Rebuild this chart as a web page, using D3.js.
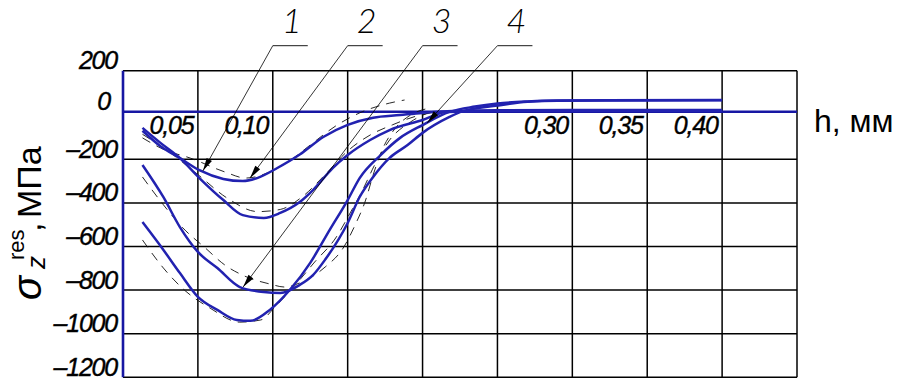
<!DOCTYPE html>
<html>
<head>
<meta charset="utf-8">
<script src="https://cdn.jsdelivr.net/npm/d3@7"></script>
<style>
  body { margin: 0; background: #fff; }
  svg { display: block; }
</style>
</head>
<body>
<svg id="chart" width="902" height="388"></svg>
<script>
// curve 1 .. 4 (solid, computed) - h in mm, sigma in MPa
const hA = [0.013, 0.025, 0.038, 0.051, 0.067, 0.080, 0.090, 0.103, 0.118, 0.134, 0.150, 0.167, 0.185, 0.200, 0.220, 0.250, 0.300, 0.350, 0.400];
const sA = [-80, -145, -195, -250, -290, -300, -285, -240, -180, -105, -55, -25, -14, -5, 4, 7, 8, 8, 8];

const hB = [0.013, 0.025, 0.038, 0.051, 0.067, 0.080, 0.094, 0.105, 0.118, 0.127, 0.140, 0.150, 0.165, 0.178, 0.200, 0.216, 0.250, 0.300, 0.400];
const sB = [-68, -131, -195, -286, -387, -456, -469, -446, -396, -340, -240, -182, -119, -77, -35, -1, 4, 5, 5];

const hC = [0.013, 0.027, 0.038, 0.050, 0.063, 0.078, 0.094, 0.105, 0.118, 0.127, 0.135, 0.150, 0.158, 0.167, 0.178, 0.190, 0.200, 0.218, 0.227, 0.250, 0.270, 0.290, 0.400];
const sC = [-226, -374, -511, -625, -699, -786, -809, -813, -776, -730, -660, -492, -373, -281, -194, -140, -89, -22, 3, 30, 48, 54, 56];

const hD = [0.013, 0.027, 0.038, 0.050, 0.063, 0.076, 0.085, 0.098, 0.112, 0.125, 0.138, 0.150, 0.158, 0.172, 0.185, 0.200, 0.218, 0.235, 0.250, 0.270, 0.290, 0.400];
const sD = [-488, -616, -722, -831, -891, -937, -941, -891, -794, -675, -524, -387, -286, -182, -110, -56, -1, 25, 40, 50, 55, 57];

// dashed companions (experiment)
const hA2 = [0.013, 0.028, 0.045, 0.068, 0.082, 0.098, 0.112, 0.125, 0.142, 0.158, 0.178, 0.188];
const sA2 = [-110, -161, -195, -258, -286, -258, -203, -140, -60, -5, 42, 57];

const hB2 = [0.013, 0.030, 0.050, 0.070, 0.090, 0.105, 0.120, 0.135, 0.150, 0.165, 0.180, 0.195, 0.210];
const sB2 = [-95, -165, -270, -380, -440, -430, -370, -270, -165, -98, -55, -20, 0];

const hC2 = [0.013, 0.027, 0.040, 0.055, 0.068, 0.081, 0.098, 0.108, 0.118, 0.135, 0.147, 0.155, 0.162, 0.167, 0.173, 0.182, 0.192, 0.205];
const sC2 = [-281, -409, -515, -607, -685, -735, -772, -786, -767, -694, -607, -501, -387, -272, -161, -68, -14, 18];

const hD2 = [0.013, 0.027, 0.041, 0.058, 0.078, 0.092, 0.102, 0.115, 0.128, 0.142, 0.152, 0.160, 0.168, 0.178, 0.192, 0.205];
const sD2 = [-570, -699, -800, -882, -947, -937, -873, -777, -671, -561, -442, -341, -226, -119, -43, -1];

// axes
const xGrid = [0.05, 0.10, 0.15, 0.20, 0.25, 0.30, 0.35, 0.40, 0.45];
const xLabels = [0.05, 0.10, 0.30, 0.35, 0.40];
const yGrid = [200, -200, -400, -600, -800, -1000, -1200];
const yLabels = [200, 0, -200, -400, -600, -800, -1000, -1200];

// callouts
const calloutText = ["1", "2", "3", "4"];
const calloutH = [0.10, 0.15, 0.20, 0.25];
const tipH = [0.0534, 0.0848, 0.0802, 0.2031];
const tipS = [-253, -286, -786, -47];

const BLUE = "#2222b0";
const AXISBLUE = "#1717a3";
const TICKFONT = "'Liberation Sans', Arial, sans-serif";

const svg = d3.select("#chart");

const x = d3.scaleLinear().domain([0, 0.45]).range([123, 797]);
const y = d3.scaleLinear().domain([-1200, -200, 0, 200]).range([377.3, 159.3, 111.7, 70.7]);

// grid
svg.append("g").selectAll("line").data(xGrid).enter().append("line")
  .attr("x1", d => x(d)).attr("x2", d => x(d))
  .attr("y1", y(200)).attr("y2", y(-1200))
  .attr("stroke", "#000").attr("stroke-width", 1.5);

svg.append("g").selectAll("line").data(yGrid).enter().append("line")
  .attr("x1", x(0)).attr("x2", x(0.45))
  .attr("y1", d => y(d)).attr("y2", d => y(d))
  .attr("stroke", "#000").attr("stroke-width", 1.5);

// blue zero line + left axis
svg.append("line")
  .attr("x1", x(0)).attr("x2", x(0.45)).attr("y1", y(0)).attr("y2", y(0))
  .attr("stroke", AXISBLUE).attr("stroke-width", 2.6);
svg.append("line")
  .attr("x1", x(0)).attr("x2", x(0)).attr("y1", y(200)).attr("y2", y(-1200))
  .attr("stroke", AXISBLUE).attr("stroke-width", 2.6);

// y tick labels
const yAxis = d3.axisLeft(y).tickValues(yLabels).tickSize(0).tickPadding(6)
  .tickFormat(d => d < 0 ? "\u2013" + Math.abs(d) : String(d));
const gy = svg.append("g").attr("transform", "translate(" + x(0) + ",0)").call(yAxis);
gy.select(".domain").remove();
gy.selectAll("text")
  .attr("dy", "-0.08em")
  .attr("x", d => d === 0 ? -13 : -6)
  .style("font-family", TICKFONT).style("font-style", "italic")
  .style("font-size", "25px").style("letter-spacing", "-1.2px")
  .attr("stroke", "#000").attr("stroke-width", 0.4)
  .attr("fill", "#000");

// x tick labels
const fmt = d3.format(".2f");
const xAxis = d3.axisBottom(x).tickValues(xLabels).tickSize(0).tickPadding(0)
  .tickFormat(d => fmt(d).replace(".", ","));
const gx = svg.append("g").attr("transform", "translate(0," + y(0) + ")").call(xAxis);
gx.select(".domain").remove();
gx.selectAll("text")
  .attr("text-anchor", "end").attr("x", -5).attr("y", 22).attr("dy", 0)
  .style("font-family", TICKFONT).style("font-style", "italic")
  .style("font-size", "25px").style("letter-spacing", "-1.2px")
  .attr("stroke", "#000").attr("stroke-width", 0.4)
  .attr("fill", "#000");

// curves
const line = d3.line()
  .curve(d3.curveMonotoneX)
  .x(d => x(d[0]))
  .y(d => y(d[1]));

const zip = (hs, ss) => hs.map((h, i) => [h, ss[i]]);

const dashed = [zip(hA2, sA2), zip(hB2, sB2), zip(hC2, sC2), zip(hD2, sD2)];
const solid = [zip(hA, sA), zip(hB, sB), zip(hC, sC), zip(hD, sD)];

svg.append("g").selectAll("path").data(dashed).enter().append("path")
  .attr("d", line).attr("fill", "none")
  .attr("stroke", "#111").attr("stroke-width", 0.9)
  .attr("stroke-dasharray", "9,7");

svg.append("g").selectAll("path").data(solid).enter().append("path")
  .attr("d", line).attr("fill", "none")
  .attr("stroke", BLUE).attr("stroke-width", 2.5);

// callouts 1-4
const topY = y(200);
const callouts = calloutText.map((t, i) => ({
  t: t, x0: x(calloutH[i]), tx: x(tipH[i]), ty: y(tipS[i])
}));

const cg = svg.append("g").selectAll("g").data(callouts).enter().append("g");

cg.append("line")
  .attr("x1", d => d.x0).attr("x2", d => d.x0 + 35)
  .attr("y1", topY - 25).attr("y2", topY - 25)
  .attr("stroke", "#000").attr("stroke-width", 0.9);

cg.append("line")
  .attr("x1", d => d.x0).attr("y1", topY - 25)
  .attr("x2", d => d.tx).attr("y2", d => d.ty)
  .attr("stroke", "#000").attr("stroke-width", 0.8);

cg.append("path")
  .attr("d", d => {
    const dx = d.x0 - d.tx, dy = (topY - 25) - d.ty;
    const len = Math.sqrt(dx * dx + dy * dy);
    const ux = dx / len, uy = dy / len;
    const bx = d.tx + ux * 13, by = d.ty + uy * 13;
    return "M" + d.tx + "," + d.ty +
      "L" + (bx - uy * 3) + "," + (by + ux * 3) +
      "L" + (bx + uy * 3) + "," + (by - ux * 3) + "Z";
  })
  .attr("fill", "#000");

cg.append("text")
  .attr("x", d => d.x0 + 19).attr("y", topY - 38)
  .attr("text-anchor", "middle")
  .style("font-family", "Lato, 'DejaVu Sans', sans-serif")
  .style("font-weight", 300).style("font-style", "italic")
  .style("font-size", "34px")
  .text(d => d.t);

// axis titles
svg.append("text")
  .attr("x", 814).attr("y", 132)
  .style("font-family", TICKFONT).style("font-size", "32px")
  .text("h, мм");

const yt = svg.append("g").attr("transform", "translate(41,300) rotate(-90)")
  .style("font-family", TICKFONT).attr("fill", "#000");
yt.append("text").attr("x", 0).attr("y", 0)
  .style("font-size", "40px").style("font-style", "italic").text("σ");
yt.append("text").attr("x", 31).attr("y", 4)
  .style("font-size", "26px").style("font-style", "italic").text("z");
yt.append("text").attr("x", 40).attr("y", -17)
  .style("font-size", "22px").text("res");
yt.append("text").attr("x", 68).attr("y", 0)
  .style("font-size", "34px").text(",");
yt.append("text").attr("x", 82).attr("y", 0)
  .style("font-size", "34px").text("МПа");
</script>
</body>
</html>
